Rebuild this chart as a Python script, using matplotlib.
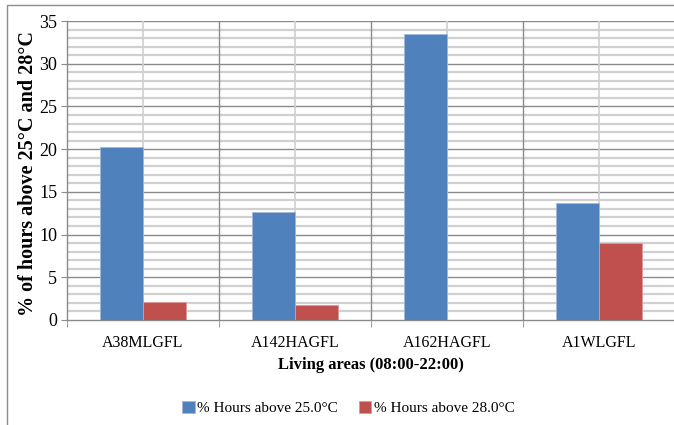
import matplotlib.pyplot as plt
import numpy as np
from matplotlib.patches import Rectangle

# Data
areas = ['A38MLGFL', 'A142HAGFL', 'A162HAGFL', 'A1WLGFL']
above25 = [20.3, 12.7, 33.45, 13.65]
above28 = [2.07, 1.8, 0.0, 9.05]

plt.rcParams['font.family'] = ['Liberation Serif', 'DejaVu Serif']

fig = plt.figure(figsize=(6.74, 4.25), dpi=100)
ax = fig.add_axes([67 / 674, 1 - 320 / 425, 1 - 67 / 674 + 0.002, (320 - 21) / 425])

# outer chart-area border
fig.patches.append(Rectangle((7 / 674, -0.05), 1.1, 1 - 5 / 425 + 0.05, transform=fig.transFigure,
                             fill=False, edgecolor='#8c8c8c', linewidth=1.0, zorder=0))

x = np.arange(len(areas))
w = 0.283
ax.bar(x - w / 2, above25, width=w, color='#4F81BD', edgecolor='#9fb9dc', linewidth=0.6,
       label='% Hours above 25.0°C', zorder=3)
ax.bar(x + w / 2, above28, width=w, color='#C0504D', edgecolor='#dc9b99', linewidth=0.6,
       label='% Hours above 28.0°C', zorder=3)

ax.set_xlim(-0.5, len(areas) - 0.5)
ax.set_ylim(0, 35)
ax.set_yticks(np.arange(0, 36, 5))
ax.set_yticks(np.arange(0, 36, 1), minor=True)

# grid: minor light, major dark
ax.set_axisbelow(True)
for v in np.arange(0, 36, 1):
    if v % 5:
        ax.axhline(v, color='#d0d0d0', linewidth=1.6, zorder=1)
for v in np.arange(5, 36, 5):
    ax.axhline(v, color='#8a8a8a', linewidth=1.0, zorder=1)
for c in x:
    ax.axvline(c, color='#d0d0d0', linewidth=1.2, zorder=1)
for b in np.arange(0.5, len(areas) - 0.5, 1):
    ax.axvline(b, color='#8a8a8a', linewidth=1.0, zorder=1)

ax.set_xticks(x)
ax.set_xticklabels(areas, fontsize=11.5)
ax.set_xticks(np.arange(-0.5, len(areas), 1), minor=True)
ax.tick_params(axis='x', which='major', length=0, pad=11)
ax.tick_params(axis='x', which='minor', length=5, color='#8a8a8a', direction='out')
ax.tick_params(axis='y', which='major', labelsize=13, length=4, color='#8a8a8a', pad=3)
ax.tick_params(axis='y', which='minor', length=0)

for s in ['top', 'right']:
    ax.spines[s].set_visible(False)
for s in ['left', 'bottom']:
    ax.spines[s].set_color('#8a8a8a')
    ax.spines[s].set_linewidth(1.0)

ax.set_xlabel('Living areas (08:00-22:00)', fontsize=12, fontweight='bold', labelpad=4)
ax.set_ylabel('% of hours above 25°C and 28°C', fontsize=14.5, fontweight='bold')
ax.yaxis.set_label_coords(-0.047, 0.49)

fig.legend(loc='center', bbox_to_anchor=(0.517, 1 - 408 / 425), ncol=2, frameon=False,
           fontsize=11, handlelength=0.8, handleheight=0.8, handletextpad=0.15, columnspacing=1.4)

fig.savefig('out.png', dpi=100)
